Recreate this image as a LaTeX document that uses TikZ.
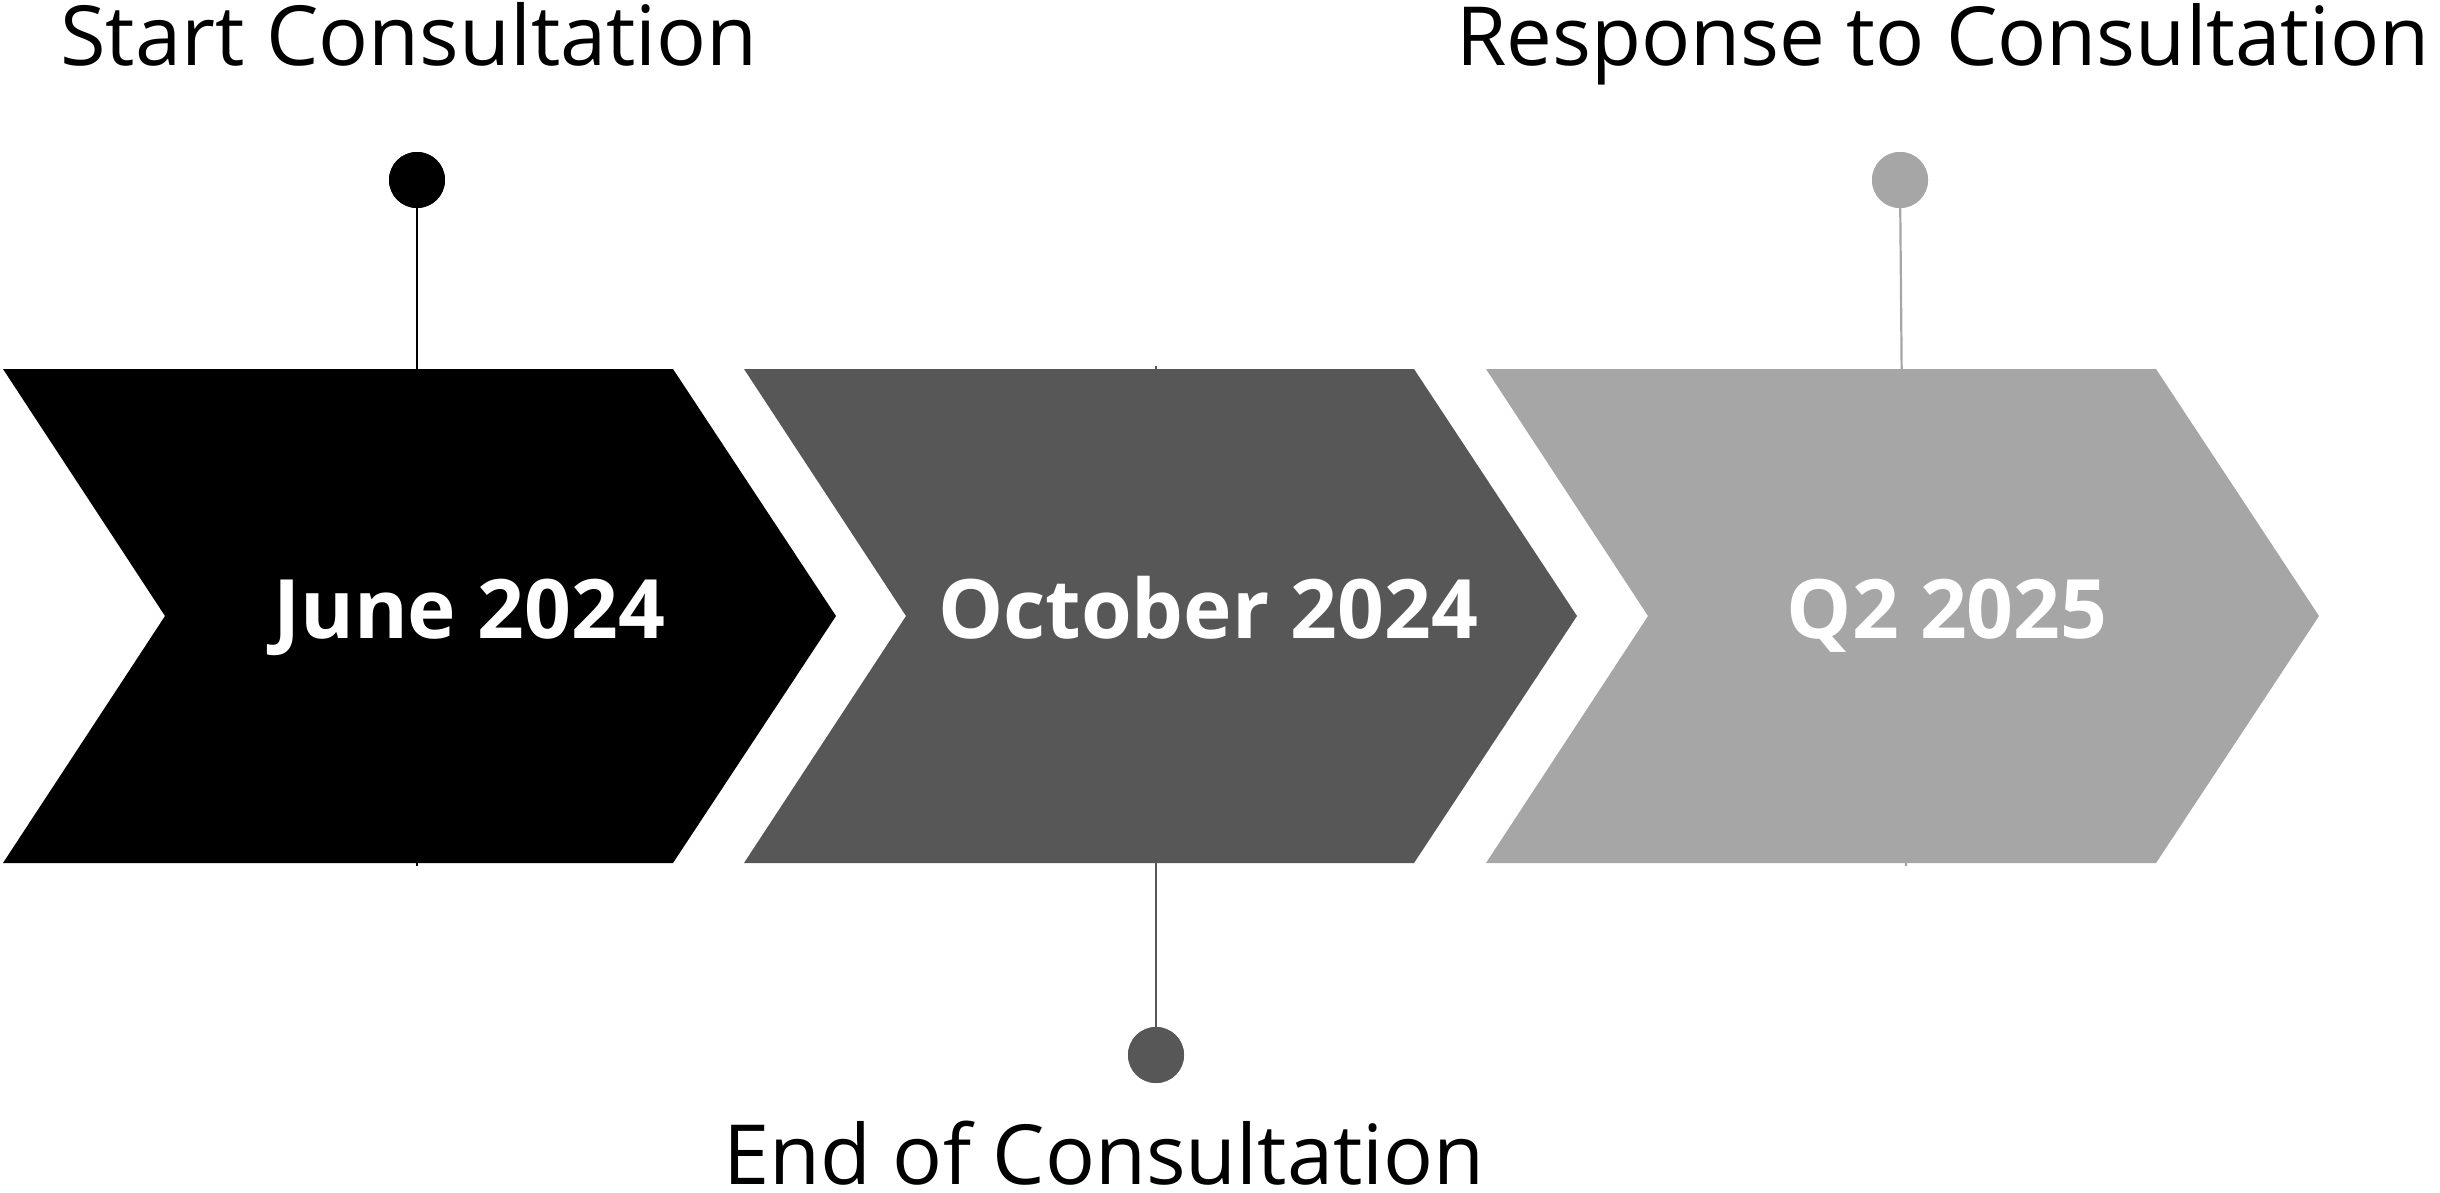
\documentclass[tikz,border=0pt]{standalone}
\usepackage{fontspec}
\setmainfont{Open Sans}
\definecolor{stepgrey}{HTML}{575757}
\definecolor{steplight}{HTML}{A6A6A6}
\begin{document}
\begin{tikzpicture}[x=0.5pt,y=-0.5pt,
  milestone/.style={font=\fontsize{41.5}{48}\selectfont, inner sep=0pt, text=black},
  datelabel/.style={font=\bfseries\fontsize{41}{48}\selectfont, inner sep=0pt, text=white},
  dot/.style={circle, inner sep=0pt, minimum size=28pt},
  stem/.style={line width=1.1pt}]
\useasboundingbox (0,0) rectangle (2440,1193);

% anchor points of the stems
\coordinate (s1) at (417,866);
\coordinate (s2) at (1156,366);
\coordinate (s3) at (1906,866);

% milestone dots
\node[dot, fill=black]     (d1) at (417,180)  {};
\node[dot, fill=stepgrey]  (d2) at (1156,1055) {};
\node[dot, fill=steplight] (d3) at (1900,180) {};

% stems sit behind the chevrons
\draw[stem, black]     (d1.center) -- (s1);
\draw[stem, stepgrey]  (d2.center) -- (s2);
\draw[stem, steplight] (d3.center) -- (s3);

% chevrons
\foreach \xo/\col in {3/black, 744/stepgrey, 1486/steplight}{
  \fill[\col] (\xo,369) -- ++(670,0) -- ++(163,247) -- ++(-163,247)
              -- ++(-670,0) -- ++(162,-247) -- cycle;
}

% redraw dots on top
\node[dot, fill=black]     at (d1) {};
\node[dot, fill=stepgrey]  at (d2) {};
\node[dot, fill=steplight] at (d3) {};

% dates
\node[datelabel, anchor=base] (t1) at (469,638)  {June 2024};
\node[datelabel, anchor=base] (t2) at (1208,638) {October 2024};
\node[datelabel, anchor=base] (t3) at (1947,638) {Q2 2025};

% milestone captions
\node[milestone, anchor=base west] (l1) at (60,66)    {Start Consultation};
\node[milestone, anchor=base west] (l2) at (723,1184) {End of Consultation};
\node[milestone, anchor=base west, font=\fontsize{40.8}{48}\selectfont] (l3) at (1456,66) {Response to Consultation};
\end{tikzpicture}
\end{document}
